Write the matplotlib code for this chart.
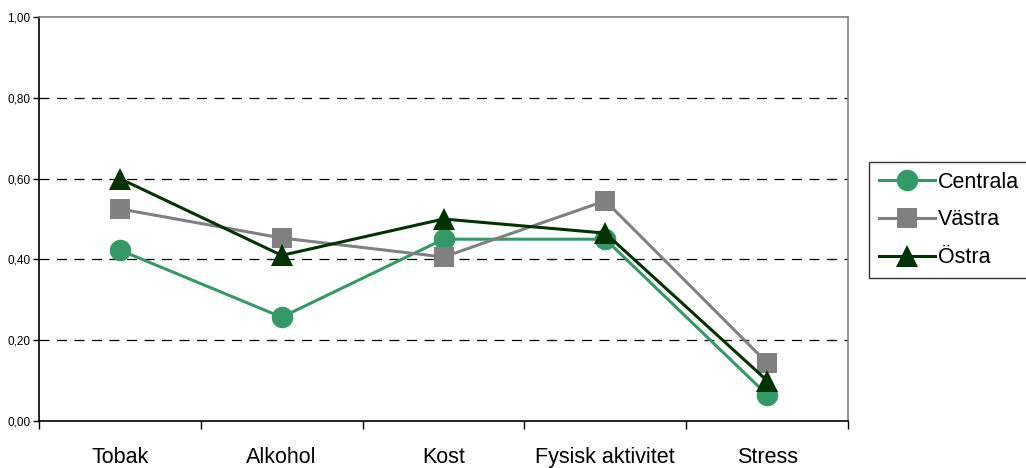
import matplotlib
matplotlib.use("Agg")
import matplotlib.pyplot as plt
import numpy as np
from matplotlib.ticker import FixedLocator, FuncFormatter

plt.rcParams['font.family'] = ['Liberation Sans', 'DejaVu Sans']

categories = ["Tobak", "Alkohol", "Kost", "Fysisk aktivitet", "Stress"]
centrala = [0.423, 0.257, 0.450, 0.450, 0.065]
vastra = [0.525, 0.453, 0.406, 0.545, 0.144]
ostra = [0.600, 0.410, 0.500, 0.465, 0.100]
y_ticks = [0.0, 0.2, 0.4, 0.6, 0.8, 1.0]

fig = plt.figure(figsize=(10.26, 4.68), dpi=100)
ax = fig.add_axes([39 / 1026, 1 - 421 / 468, (848 - 39) / 1026, (421 - 17) / 468])

x = np.arange(len(categories)) + 0.5

series = [
    ("Centrala", centrala, "#339966", "o", 15.5),
    ("Västra", vastra, "#808080", "s", 14.5),
    ("Östra", ostra, "#003300", "^", 16),
]
for name, vals, col, mk, ms in series:
    ax.plot(x, vals, color=col, lw=2.2, marker=mk, markersize=ms,
            markeredgewidth=0, label=name, zorder=3, clip_on=False)

ax.set_xlim(0, len(categories))
ax.set_ylim(0, 1.0)

ax.yaxis.set_major_locator(FixedLocator(y_ticks))
ax.yaxis.set_major_formatter(FuncFormatter(lambda v, p: f"{v:.2f}".replace(".", ",")))
ax.tick_params(axis="y", labelsize=8.5, length=4, width=1, direction="out", pad=2)

ax.set_xticks(np.arange(len(categories) + 1))
ax.set_xticklabels([])
ax.tick_params(axis="x", which="major", length=6, width=1, direction="out")
ax.set_xticks(x, minor=True)
ax.set_xticklabels(categories, minor=True, fontsize=15.5)
ax.tick_params(axis="x", which="minor", length=0, pad=19)

for v in y_ticks[1:-1]:
    ax.axhline(v, color="black", lw=0.9, ls=(0, (8, 6)), zorder=1)

for side in ("left", "bottom"):
    ax.spines[side].set_color("black")
    ax.spines[side].set_linewidth(1.2)
for side in ("top", "right"):
    ax.spines[side].set_color("#808080")
    ax.spines[side].set_linewidth(1.2)

leg = fig.legend(loc="upper left", bbox_to_anchor=(869 / 1026, 1 - 162 / 468),
                 fontsize=15.5, frameon=True, fancybox=False, edgecolor="black",
                 handlelength=2.6, handletextpad=0.15, borderpad=0.45,
                 labelspacing=0.78, borderaxespad=0)
leg.get_frame().set_linewidth(1.0)

fig.savefig("out.png", dpi=100)
